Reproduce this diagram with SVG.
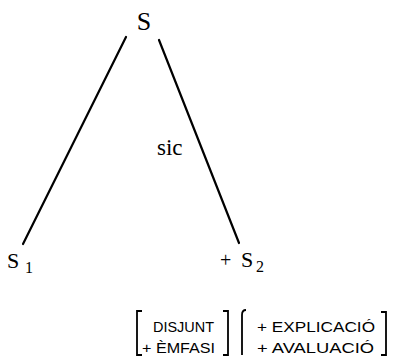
<svg xmlns="http://www.w3.org/2000/svg" width="393" height="360" viewBox="0 0 393 360">
<style>
.t{font-family:"Liberation Serif","Times New Roman",serif;fill:#000}
.c{font-family:"Liberation Sans",Arial,sans-serif;font-size:14px;fill:#000}
.l{stroke:#000;stroke-width:2.2;fill:none;stroke-linecap:round}
.b{stroke:#000;stroke-width:1.8;fill:none}
</style>
<rect width="393" height="360" fill="#fff"/>
<g id="connectors">
<line class="l" x1="126" y1="37" x2="23" y2="244"/>
<line class="l" x1="159" y1="40" x2="239" y2="243"/>
<text class="t" x="157" y="155" font-size="23">sic</text>
</g>
<g id="node-S">
<text class="t" x="144" y="30" font-size="26" text-anchor="middle">S</text>
</g>
<g id="node-S1">
<text class="t" x="7" y="268" font-size="22">S</text>
<text class="t" x="25" y="273" font-size="16">1</text>
</g>
<g id="node-S2">
<text class="t" x="220" y="267" font-size="20">+</text>
<text class="t" x="241" y="267" font-size="22">S</text>
<text class="t" x="256" y="272" font-size="16">2</text>
</g>
<g id="features">
<path class="b" d="M142,311 H137 V355 H142"/>
<text class="c" x="153" y="332" textLength="61" lengthAdjust="spacingAndGlyphs">DISJUNT</text>
<text class="c" x="142" y="353" textLength="73" lengthAdjust="spacingAndGlyphs">+ ÈMFASI</text>
<path class="b" d="M223,311 H228 V355 H223"/>
<path class="b" d="M246,310 Q242,310 242,315 V355"/>
<text class="c" x="257" y="332" textLength="118" lengthAdjust="spacingAndGlyphs">+ EXPLICACIÓ</text>
<text class="c" x="257" y="353" textLength="117" lengthAdjust="spacingAndGlyphs">+ AVALUACIÓ</text>
<path class="b" d="M381,312 H386 V355 H381"/>
</g>
</svg>
